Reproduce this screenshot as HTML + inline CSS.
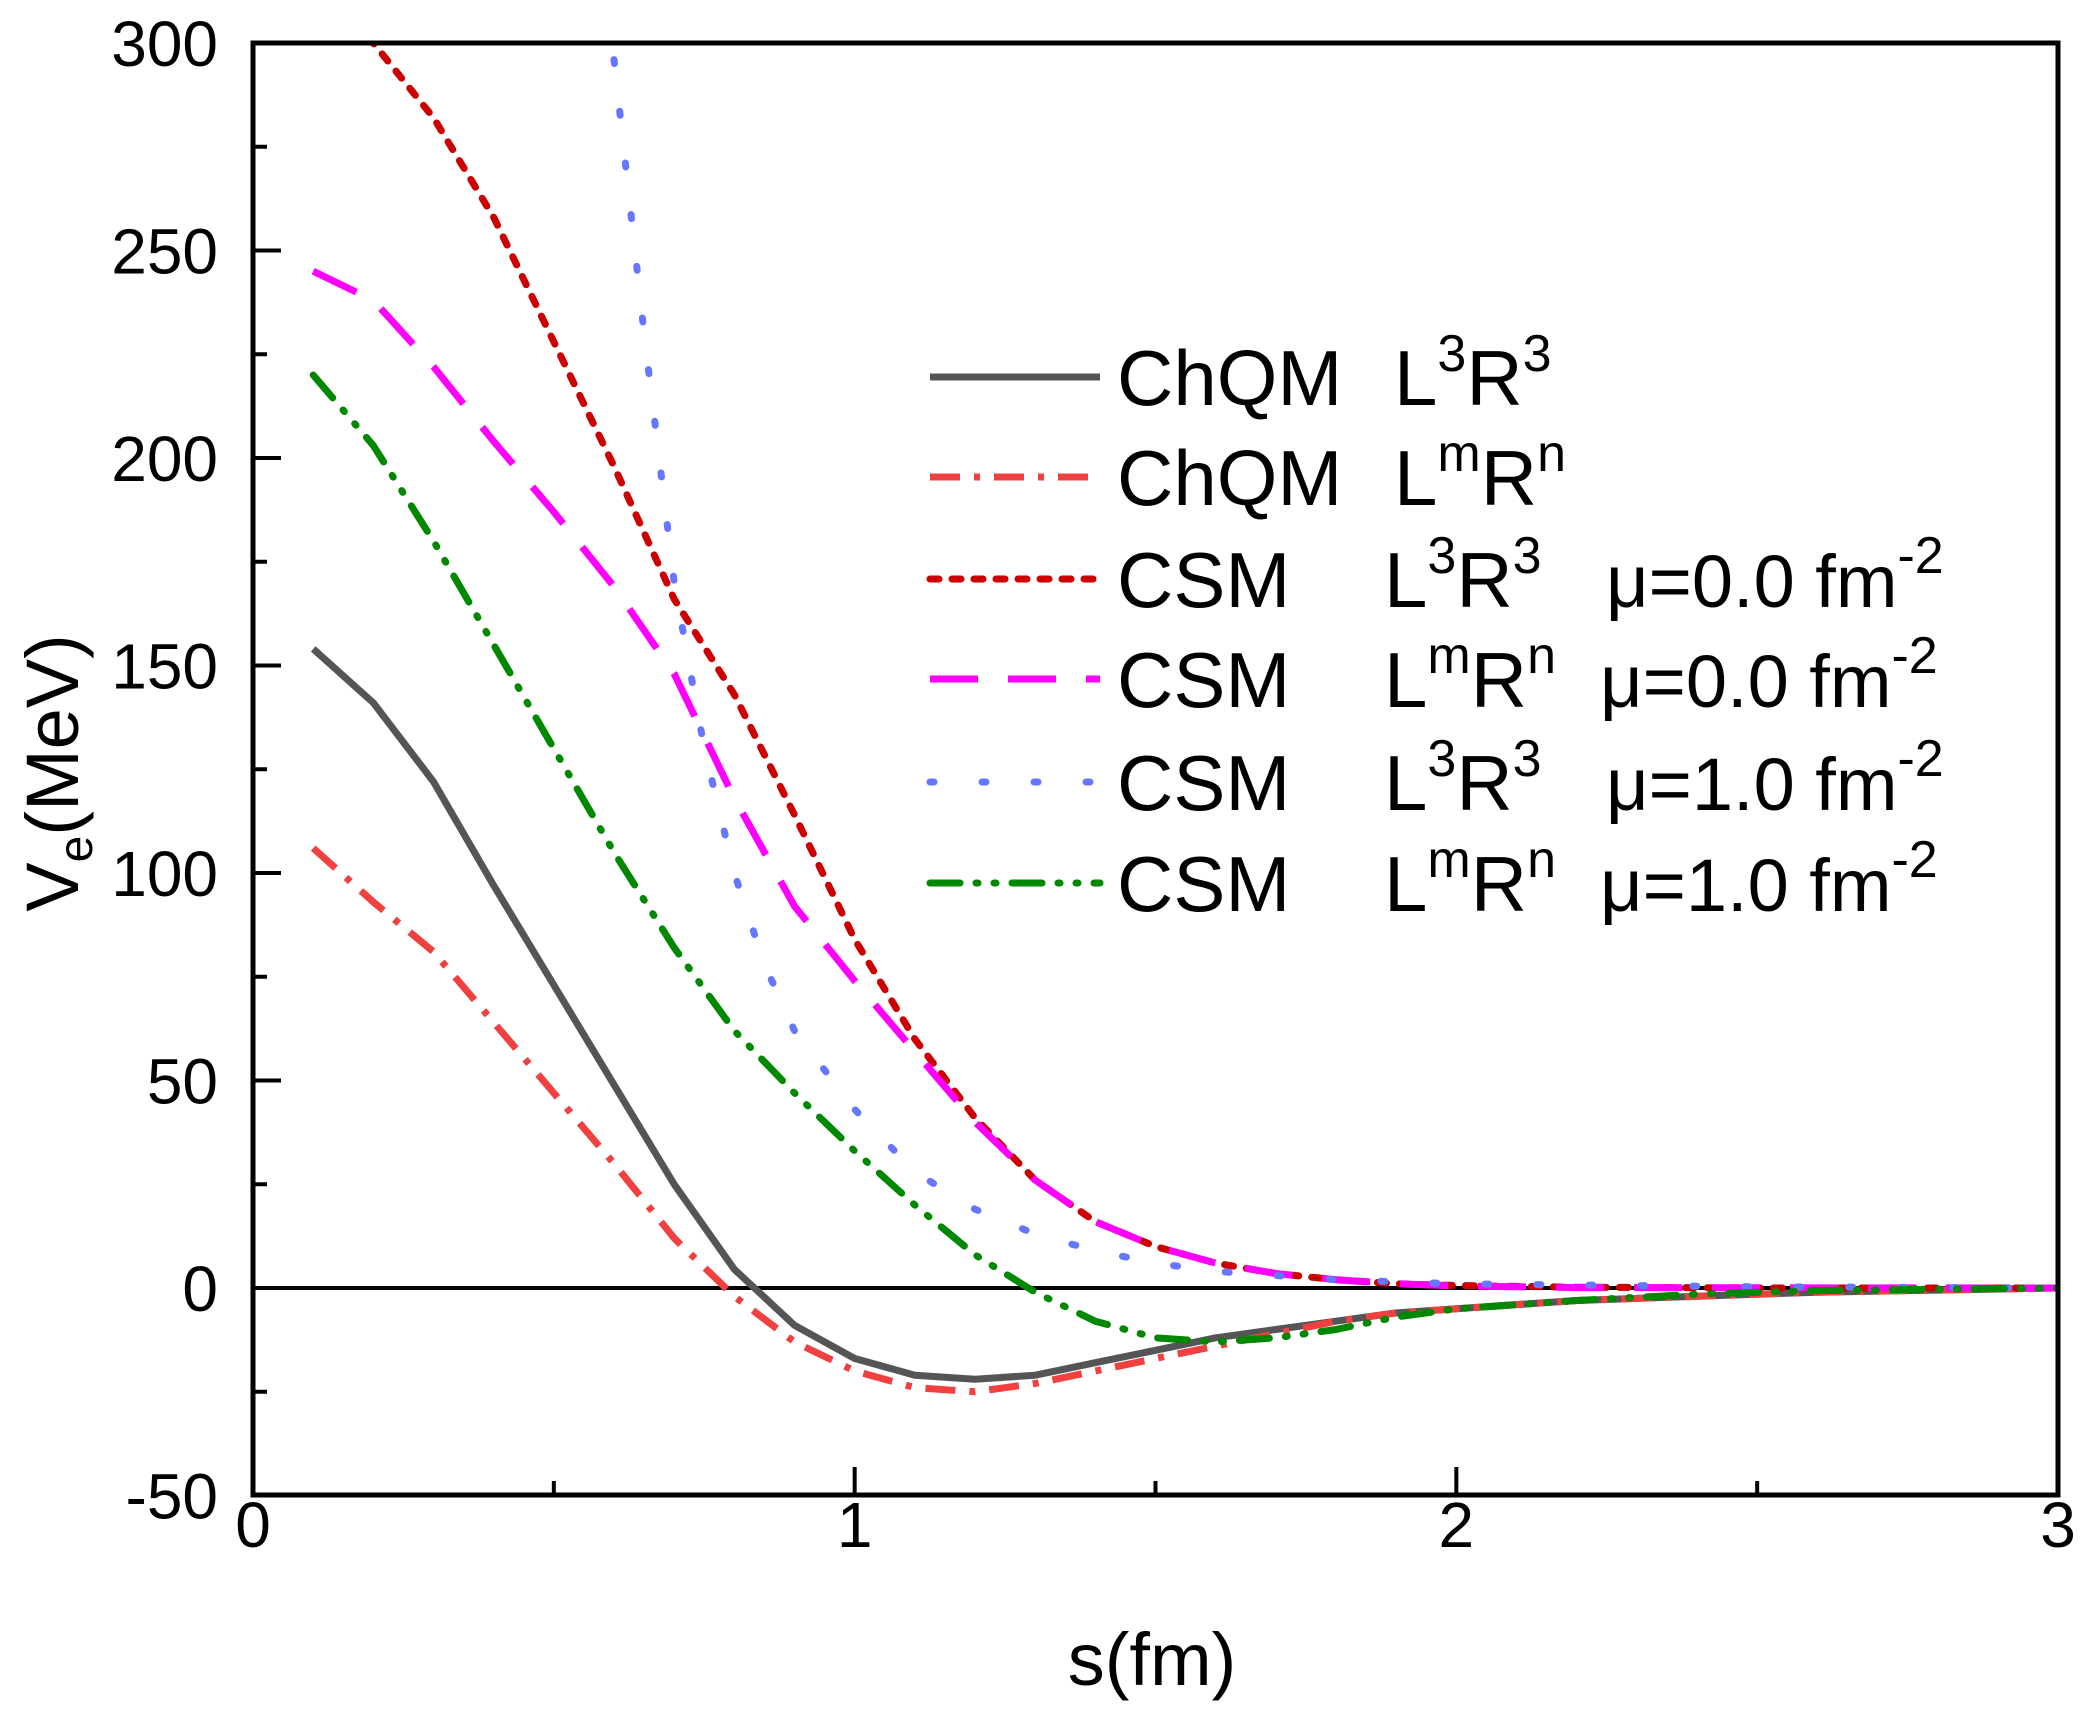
<!DOCTYPE html>
<html><head><meta charset="utf-8"><style>
html,body{margin:0;padding:0;background:#fff;}
svg{display:block;font-family:"Liberation Sans",Arial,sans-serif;}
</style></head><body>
<svg id="chart" width="2089" height="1728" viewBox="0 0 2089 1728" xmlns="http://www.w3.org/2000/svg">
<defs><clipPath id="plotclip"><rect x="253" y="43" width="1805" height="1452"/></clipPath></defs>
<g id="series" clip-path="url(#plotclip)"></g>
<g id="axes"></g>
<g id="legend"></g>
</svg>
<script>
const xTicks = [0, 1, 2, 3];
const xMinor = [0.5, 1.5, 2.5];
const yTicks = [-50, 0, 50, 100, 150, 200, 250, 300];
const yMinor = [-25, 25, 75, 125, 175, 225, 275];

const sChQM3 = [0.1,0.2,0.3,0.4,0.5,0.6,0.7,0.8,0.9,1.0,1.1,1.2,1.3,1.4,1.5,1.6,1.7,1.8,1.9,2.0,2.2,2.4,2.6,2.8,3.0];
const vChQM3 = [154,141,122,97,73,49,25,4.5,-9,-17,-21,-22,-21,-18,-15,-12,-10,-8,-6,-5,-3,-2,-1,-0.5,0];
const sChQMmn = [0.1,0.2,0.3,0.4,0.5,0.6,0.7,0.8,0.9,1.0,1.1,1.2,1.3,1.4,1.5,1.6,1.7,1.8,1.9,2.0,2.2,2.4,2.6,2.8,3.0];
const vChQMmn = [106,93,81,64,47,30,12,-2,-13,-20,-24,-25,-23,-20,-17,-14,-11,-8,-6,-5,-3,-2,-1,-0.5,0];
const sCSM3mu0 = [0.1,0.2,0.3,0.4,0.5,0.6,0.7,0.8,0.9,1.0,1.1,1.2,1.3,1.4,1.5,1.6,1.7,1.8,1.9,2.0,2.2,2.5,3.0];
const vCSM3mu0 = [318,300,282,258,228,198,166,143,114,84,60,41,26,16,10,6,3.5,2,1,0.6,0.2,0,0];
const sCSMmnmu0 = [0.1,0.2,0.3,0.4,0.5,0.6,0.7,0.8,0.9,1.0,1.1,1.2,1.3,1.4,1.5,1.6,1.7,1.8,1.9,2.0,2.2,3.0];
const vCSMmnmu0 = [245,238,222,204,187,169,148,118,92,74,57,40,26,16,10,6,3.5,2,1,0.5,0.1,0];
const sCSM3mu1 = [0.6,0.65,0.7,0.75,0.8,0.85,0.9,1.0,1.1,1.2,1.3,1.4,1.5,1.6,1.7,1.8,2.0,2.5,3.0];
const vCSM3mu1 = [296,230,170,130,100,78,62,43,28,19,13,9,6,4,3,2,1,0.3,0];
const sCSMmnmu1 = [0.1,0.2,0.3,0.4,0.5,0.6,0.7,0.8,0.9,1.0,1.1,1.2,1.3,1.4,1.5,1.6,1.7,1.8,1.9,2.0,2.2,2.4,2.6,3.0];
const vCSMmnmu1 = [220,203,180,155,130,105,82,62,47,33,20,8,-1,-8,-12,-13,-12,-10,-7,-5,-3,-1.5,-0.6,0];

const X0=253, X1=2058, Y0=1288, PXU=4.15;
function xs(v){ return X0 + v*(X1-X0)/3; }
function ys(v){ return Y0 - v*PXU; }
const NS="http://www.w3.org/2000/svg";
function mk(tag, attrs, parent){ const e=document.createElementNS(NS,tag); for(const k in attrs) e.setAttribute(k,attrs[k]); parent.appendChild(e); return e; }

const series=document.getElementById('series');
const axes=document.getElementById('axes');

const zl = mk('line',{x1:X0,x2:X1,y1:ys(0),y2:ys(0),stroke:'#000','stroke-width':4},series);



const defs = [
 {s:sChQM3,v:vChQM3,color:'#555555',dash:'',cap:'butt',name:'series-chqm-l3r3'},
 {s:sChQMmn,v:vChQMmn,color:'#f04040',dash:'30 14 6 14',cap:'butt',name:'series-chqm-lmrn'},
 {s:sCSM3mu0,v:vCSM3mu0,color:'#cc0000',dash:'9 13',cap:'round',name:'series-csm-l3r3-mu0'},
 {s:sCSMmnmu0,v:vCSMmnmu0,color:'#ff00ff',dash:'48 30',cap:'butt',name:'series-csm-lmrn-mu0'},
 {s:sCSM3mu1,v:vCSM3mu1,color:'#6677ff',dash:'4 48',cap:'round',name:'series-csm-l3r3-mu1'},
 {s:sCSMmnmu1,v:vCSMmnmu1,color:'#008800',dash:'30 16 2 16 2 16',cap:'round',name:'series-csm-lmrn-mu1'}
];
defs.forEach(d=>{
  const pts=d.s.map((s,i)=>xs(s).toFixed(1)+','+ys(d.v[i]).toFixed(1)).join(' ');
  const a={points:pts,fill:'none',stroke:d.color,'stroke-width':7,'stroke-linecap':d.cap,'stroke-linejoin':'round'};
  if(d.dash) a['stroke-dasharray']=d.dash;
  const p=mk('polyline',a,series);
  
  
});

const fr=mk('rect',{x:X0,y:43,width:X1-X0,height:1495-43,fill:'none',stroke:'#000','stroke-width':5},axes);



yTicks.forEach(t=>{
  const l=mk('line',{x1:X0,x2:X0+28,y1:ys(t),y2:ys(t),stroke:'#000','stroke-width':4},axes);
  
  
  const tx=mk('text',{x:218,y:ys(t)+23,'text-anchor':'end','font-size':64,fill:'#000'},axes);
  tx.textContent=t;
  
  
});
yMinor.forEach(t=>{
  const l=mk('line',{x1:X0,x2:X0+14,y1:ys(t),y2:ys(t),stroke:'#000','stroke-width':4},axes);
  
  
});
xTicks.forEach(t=>{
  const l=mk('line',{x1:xs(t),x2:xs(t),y1:1495,y2:1467,stroke:'#000','stroke-width':4},axes);
  
  
  const tx=mk('text',{x:xs(t),y:1547,'text-anchor':'middle','font-size':64,fill:'#000'},axes);
  tx.textContent=t;
  
  
});
xMinor.forEach(t=>{
  const l=mk('line',{x1:xs(t),x2:xs(t),y1:1495,y2:1481,stroke:'#000','stroke-width':4},axes);
  
  
});
</script>
<script>
(function(){
const NS="http://www.w3.org/2000/svg";
const axes=document.getElementById('axes');
const legend=document.getElementById('legend');
const xt=document.createElementNS(NS,'text');
xt.setAttribute('x',1152);xt.setAttribute('y',1685);xt.setAttribute('text-anchor','middle');xt.setAttribute('font-size',74);
xt.textContent='s(fm)';


axes.appendChild(xt);
const yt=document.createElementNS(NS,'text');
yt.setAttribute('transform','translate(78,773) rotate(-90)');yt.setAttribute('text-anchor','middle');yt.setAttribute('font-size',74);
yt.innerHTML='V<tspan font-size="48" dy="14">e</tspan><tspan dy="-14">(MeV)</tspan>';


axes.appendChild(yt);

const rows=[
 {y:377,color:'#555555',dash:'',cap:'butt',a:'ChQM',ax:1394,sup1:'3',sup2:'3',mu:''},
 {y:477,color:'#f04040',dash:'30 14 6 14',cap:'butt',a:'ChQM',ax:1394,sup1:'m',sup2:'n',mu:''},
 {y:579,color:'#cc0000',dash:'9 13',cap:'round',a:'CSM',ax:1384,sup1:'3',sup2:'3',mu:'0.0',mux:1606},
 {y:679,color:'#ff00ff',dash:'48 30',cap:'butt',a:'CSM',ax:1384,sup1:'m',sup2:'n',mu:'0.0',mux:1600},
 {y:782,color:'#6677ff',dash:'4 48',cap:'round',a:'CSM',ax:1384,sup1:'3',sup2:'3',mu:'1.0',mux:1606},
 {y:883,color:'#008800',dash:'30 16 2 16 2 16',cap:'round',a:'CSM',ax:1384,sup1:'m',sup2:'n',mu:'1.0',mux:1600}
];
rows.forEach((r,i)=>{
  const l=document.createElementNS(NS,'line');
  l.setAttribute('x1',930);l.setAttribute('x2',1100);l.setAttribute('y1',r.y);l.setAttribute('y2',r.y);
  l.setAttribute('stroke',r.color);l.setAttribute('stroke-width',7);l.setAttribute('stroke-linecap',r.cap);
  if(r.dash) l.setAttribute('stroke-dasharray',r.dash);
  
  
  legend.appendChild(l);
  const t=document.createElementNS(NS,'text');
  t.setAttribute('x',1117);t.setAttribute('y',r.y+28);t.setAttribute('font-size',78);
  t.textContent=r.a;
  
  
  legend.appendChild(t);
  const t2=document.createElementNS(NS,'text');
  t2.setAttribute('x',r.ax);t2.setAttribute('y',r.y+28);t2.setAttribute('font-size',78);
  t2.innerHTML='L<tspan font-size="52" dy="-34">'+r.sup1+'</tspan><tspan dy="34">R</tspan><tspan font-size="52" dy="-34">'+r.sup2+'</tspan>';
  
  
  legend.appendChild(t2);
  if(r.mu){
    const t3=document.createElementNS(NS,'text');
    t3.setAttribute('x',r.mux);t3.setAttribute('y',r.y+28);t3.setAttribute('font-size',74);
    t3.innerHTML='μ=' + r.mu + ' fm<tspan font-size="52" dy="-34">-2</tspan>';
    
    
    legend.appendChild(t3);
  }
});
})();
</script>
</body></html>
